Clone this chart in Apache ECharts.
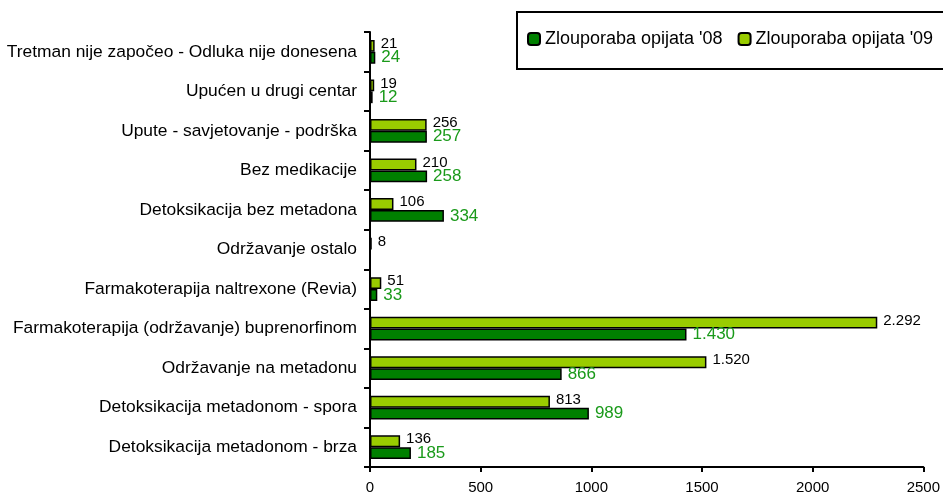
<!DOCTYPE html>
<html>
<head>
<meta charset="utf-8">
<script src="https://cdn.jsdelivr.net/npm/echarts@6/dist/echarts.min.js"></script>
<style>
html, body { margin: 0; padding: 0; background: #fff; }
#main { width: 943px; height: 495px; }
</style>
</head>
<body>
<div id="main"></div>
<script>
var dom = document.getElementById("main");
var myChart = echarts.init(dom);

// kategorije odozdo prema gore
var categories = [
    "Detoksikacija metadonom - brza",
    "Detoksikacija metadonom - spora",
    "Održavanje na metadonu",
    "Farmakoterapija (održavanje) buprenorfinom",
    "Farmakoterapija naltrexone (Revia)",
    "Održavanje ostalo",
    "Detoksikacija bez metadona",
    "Bez medikacije",
    "Upute - savjetovanje - podrška",
    "Upućen u drugi centar",
    "Tretman nije započeo - Odluka nije donesena"
];
var values08 = [185, 989, 866, 1430, 33, null, 334, 258, 257, 12, 24];
var values09 = [136, 813, 1520, 2292, 51, 8, 106, 210, 256, 19, 21];

var name08 = "Zlouporaba opijata '08";
var name09 = "Zlouporaba opijata '09";

function fmt(v) {
    return String(v).replace(/\B(?=(\d{3})+(?!\d))/g, ".");
}

var option = {
    backgroundColor: "#fff",
    animation: false,
    textStyle: { fontFamily: "Liberation Sans, Arial, sans-serif" },
    legend: {
        data: [name08, name09],
        left: 517,
        top: 12,
        width: 600,
        orient: "horizontal",
        padding: [18, 40, 21, 10],
        borderColor: "#000",
        borderWidth: 2,
        itemWidth: 12,
        itemHeight: 12,
        itemGap: 15,
        textStyle: { color: "#000", fontSize: 18 }
    },
    grid: { left: 370, right: 14, top: 32, bottom: 28, containLabel: false },
    xAxis: {
        type: "value",
        min: 0,
        max: 2500,
        interval: 500,
        splitLine: { show: false },
        axisLine: { show: true, lineStyle: { color: "#000", width: 2 } },
        axisTick: { show: true, length: 5, lineStyle: { color: "#000", width: 2 } },
        axisLabel: { color: "#000", fontSize: 15, margin: 13, formatter: function (v) { return String(v); } }
    },
    yAxis: {
        type: "category",
        data: categories,
        axisLine: { show: true, lineStyle: { color: "#000", width: 2 } },
        axisTick: { show: true, length: 6, lineStyle: { color: "#000", width: 2 } },
        axisLabel: { color: "#000", fontSize: 17.4, margin: 13 }
    },
    series: [
        {
            name: name09,
            type: "bar",
            data: values09,
            barGap: "0%",
            barCategoryGap: "40%",
            itemStyle: { color: "#99cc00", borderColor: "#000", borderWidth: 1.5 },
            label: {
                show: true,
                position: "right",
                distance: 6,
                offset: [0, -2],
                color: "#000",
                fontSize: 15,
                formatter: function (p) { return fmt(p.value); }
            }
        },
        {
            name: name08,
            type: "bar",
            data: values08,
            barGap: "0%",
            barCategoryGap: "40%",
            itemStyle: { color: "#008000", borderColor: "#000", borderWidth: 1.5 },
            label: {
                show: true,
                position: "right",
                distance: 6,
                offset: [0, 0],
                color: "#1a9a1a",
                fontSize: 17,
                formatter: function (p) { return fmt(p.value); }
            }
        }
    ]
};
myChart.setOption(option);
</script>
</body>
</html>
